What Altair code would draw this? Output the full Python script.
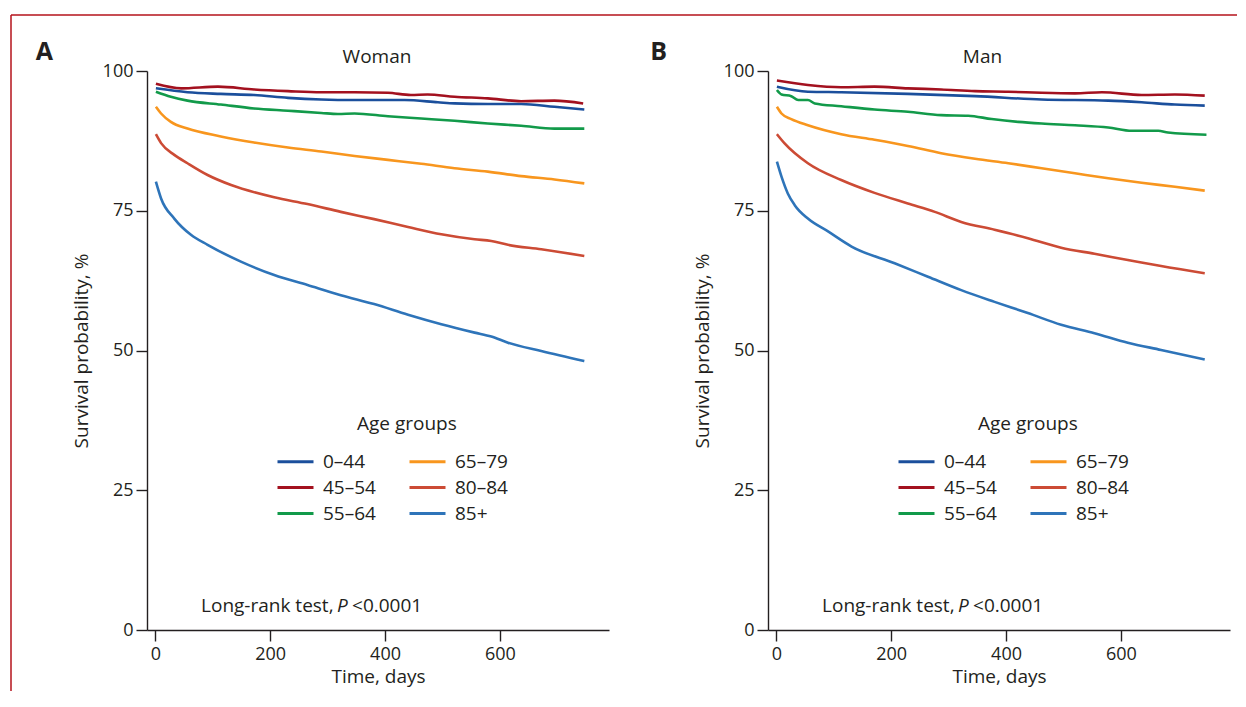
import altair as alt
import pandas as pd

AGES = ["0–44", "45–54", "55–64", "65–79", "80–84", "85+"]
COLORS = ["#1b4f9c", "#a3111f", "#129a4a", "#f8961e", "#cc4b35", "#2e74b9"]

# ---- Woman ----
w_0_44_d = [1, 56, 114, 172, 231, 289, 347, 434, 492, 521, 579, 637, 695, 747]
w_0_44_v = [96.9, 96.2, 95.9, 95.7, 95.2, 94.9, 94.8, 94.8, 94.4, 94.2, 94.1, 94.1, 93.6, 93.1]
w_45_54_d = [1, 45, 109, 172, 231, 289, 347, 405, 445, 474, 521, 579, 637, 695, 745]
w_45_54_v = [97.7, 96.9, 97.2, 96.7, 96.4, 96.2, 96.2, 96.1, 95.7, 95.8, 95.4, 95.1, 94.6, 94.7, 94.2]
w_55_64_d = [1, 27, 56, 114, 172, 231, 289, 318, 347, 405, 463, 521, 579, 637, 695, 747]
w_55_64_v = [96.3, 95.4, 94.7, 94.0, 93.3, 92.9, 92.5, 92.3, 92.4, 91.9, 91.5, 91.1, 90.6, 90.2, 89.7, 89.7]
w_65_79_d = [1, 10, 27, 56, 114, 172, 231, 289, 347, 405, 463, 521, 579, 637, 695, 747]
w_65_79_v = [93.6, 92.4, 90.9, 89.7, 88.3, 87.2, 86.3, 85.6, 84.8, 84.1, 83.4, 82.6, 82.0, 81.2, 80.6, 79.9]
w_80_84_d = [1, 10, 33, 56, 91, 132, 207, 265, 323, 381, 440, 498, 556, 585, 614, 672, 747]
w_80_84_v = [88.7, 87.1, 85.0, 83.5, 81.4, 79.6, 77.4, 76.2, 74.8, 73.5, 72.1, 70.8, 69.9, 69.6, 68.9, 68.1, 66.9]
w_85_d = [1, 10, 33, 62, 91, 149, 207, 265, 323, 381, 440, 498, 556, 585, 614, 672, 747]
w_85_v = [80.2, 77.2, 73.6, 70.7, 68.9, 65.9, 63.5, 61.7, 59.9, 58.3, 56.4, 54.7, 53.2, 52.5, 51.4, 49.9, 48.1]

# ---- Man ----
m_0_44_d = [1, 55, 113, 229, 346, 462, 578, 636, 694, 746]
m_0_44_v = [97.2, 96.3, 96.2, 95.9, 95.5, 94.9, 94.7, 94.4, 94.0, 93.8]
m_45_54_d = [1, 55, 113, 171, 229, 287, 346, 404, 462, 520, 567, 636, 694, 746]
m_45_54_v = [98.3, 97.5, 97.1, 97.2, 96.9, 96.7, 96.4, 96.3, 96.1, 96.0, 96.2, 95.7, 95.8, 95.6]
m_55_64_d = [1, 9, 26, 38, 55, 67, 113, 171, 229, 287, 334, 375, 421, 462, 520, 578, 619, 665, 682, 749]
m_55_64_v = [96.6, 95.8, 95.5, 94.8, 94.8, 94.2, 93.7, 93.1, 92.7, 92.1, 92.0, 91.4, 90.9, 90.6, 90.3, 89.9, 89.3, 89.3, 89.0, 88.6]
m_65_79_d = [1, 9, 26, 55, 113, 171, 229, 287, 346, 404, 462, 520, 578, 636, 694, 746]
m_65_79_v = [93.6, 92.4, 91.4, 90.3, 88.7, 87.7, 86.6, 85.3, 84.3, 83.5, 82.6, 81.7, 80.8, 80.0, 79.3, 78.6]
m_80_84_d = [1, 14, 55, 113, 171, 229, 276, 322, 380, 438, 496, 554, 612, 670, 746]
m_80_84_v = [88.7, 87.1, 83.5, 80.5, 78.2, 76.3, 74.8, 73.0, 71.6, 70.1, 68.4, 67.3, 66.2, 65.1, 63.8]
m_85_d = [1, 9, 20, 32, 55, 90, 131, 206, 264, 322, 380, 438, 496, 554, 612, 670, 746]
m_85_v = [83.8, 81.1, 78.1, 76.0, 73.6, 71.3, 68.6, 65.6, 63.2, 60.8, 58.7, 56.7, 54.6, 53.1, 51.4, 50.1, 48.4]

WOMAN = [(w_0_44_d, w_0_44_v), (w_45_54_d, w_45_54_v), (w_55_64_d, w_55_64_v),
         (w_65_79_d, w_65_79_v), (w_80_84_d, w_80_84_v), (w_85_d, w_85_v)]
MAN = [(m_0_44_d, m_0_44_v), (m_45_54_d, m_45_54_v), (m_55_64_d, m_55_64_v),
       (m_65_79_d, m_65_79_v), (m_80_84_d, m_80_84_v), (m_85_d, m_85_v)]

FONT = "Open Sans"
FS = 18      # tick labels
FT = 19      # titles / annotations / legend labels
INK = "#231f20"
BORDER = "#b5121b"

X = alt.X("day:Q", scale=alt.Scale(domain=[-14.5, 790], nice=False, zero=False),
          axis=alt.Axis(values=[0, 200, 400, 600], title="Time, days",
                        labelPadding=4, titlePadding=4))
Y = alt.Y("value:Q", scale=alt.Scale(domain=[0, 100], nice=False, zero=False),
          axis=alt.Axis(values=[0, 25, 50, 75, 100], title="Survival probability, %",
                        labelPadding=3, titlePadding=11))


def txt(day, value, label, **kw):
    d = pd.DataFrame({"day": [day], "value": [value]})
    params = dict(font=FONT, fontSize=FT, color=INK, baseline="middle")
    params.update(kw)
    return alt.Chart(d).mark_text(text=label, **params)


def panel(series, title, title_day, letter, letter_day, border):
    rows = []
    for name, (ds, vs) in zip(AGES, series):
        for d, v in zip(ds, vs):
            rows.append({"group": name, "day": d, "value": v})
    df = pd.DataFrame(rows)
    lines = alt.Chart(df).mark_line(strokeWidth=2.6, interpolate="monotone").encode(
        color=alt.Color("group:N", scale=alt.Scale(domain=AGES, range=COLORS),
                        legend=alt.Legend(title=None, orient="none", legendX=138, legendY=380,
                                          columns=2, columnPadding=27, rowPadding=5,
                                          symbolType="M-2,0H2", symbolSize=324,
                                          symbolStrokeWidth=3, labelOffset=17,
                                          labelFont=FONT, labelFontSize=FT, labelColor=INK,
                                          padding=0))
    )
    layers = [lines,
              txt(title_day, 102.5, title, align="center"),
              txt(letter_day, 103.4, letter, align="center", fontWeight="bold", fontSize=25),
              txt(438, 36.9, "Age groups", align="center"),
              txt(79.6, 4.3, "Long-rank test,", align="left"),
              txt(79.6, 4.3, "P", align="left", fontStyle="italic", dx=136),
              txt(79.6, 4.3, "<0.0001", align="left", dx=151)]
    if border:
        one = pd.DataFrame({"k": [0]})
        layers.append(alt.Chart(one).mark_rule(color=BORDER, strokeWidth=1.5).encode(
            x=alt.value(-136), y=alt.value(-56), y2=alt.value(620)))
        layers.append(alt.Chart(one).mark_rule(color=BORDER, strokeWidth=1.5).encode(
            x=alt.value(-136), x2=alt.value(1090), y=alt.value(-56)))
    return alt.layer(*layers).encode(x=X, y=Y).properties(width=462, height=559)


left = panel(WOMAN, "Woman", 386, "A", -193, True)
right = panel(MAN, "Man", 359, "B", -205, False)

chart = alt.hconcat(left, right, spacing=159, bounds="flush").resolve_scale(
    color="independent", x="independent", y="independent"
).resolve_legend(color="independent").properties(
    padding={"left": 2, "top": 6, "right": 0, "bottom": 0}
).configure_view(stroke=None).configure_axis(
    grid=False, domainColor=INK, tickColor=INK, domainWidth=1.4, tickWidth=1.4, tickSize=11,
    labelFont=FONT, labelFontSize=FS, labelColor=INK,
    titleFont=FONT, titleFontSize=FT, titleColor=INK, titleFontWeight="normal"
)

chart.save("out.html", embed_options={"renderer": "svg", "actions": False})
